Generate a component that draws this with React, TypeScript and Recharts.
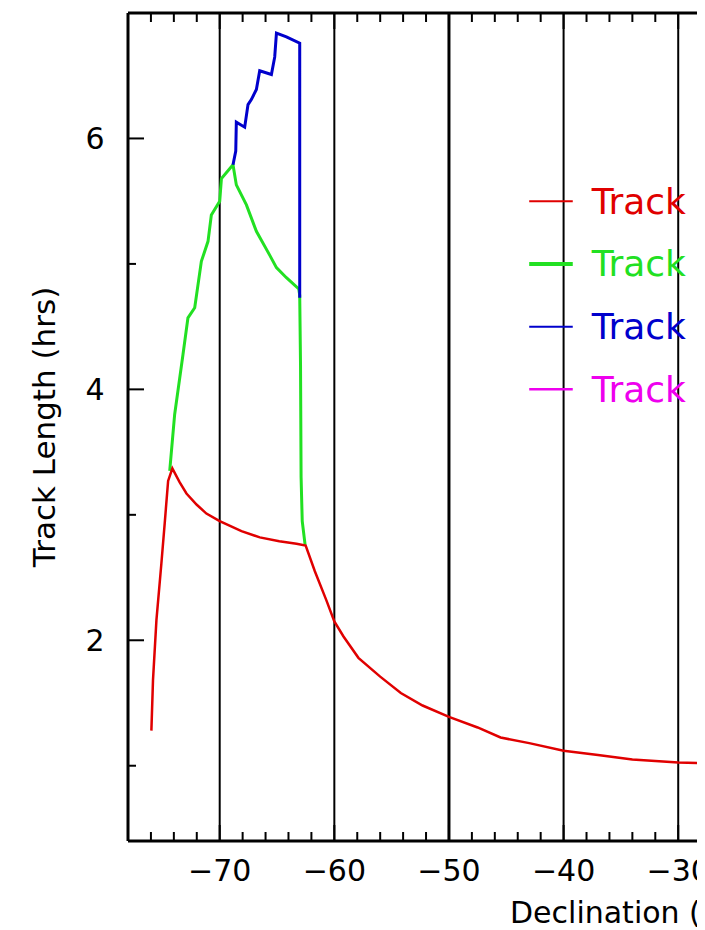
import React from 'react';
import { LineChart, Line, XAxis, YAxis, ReferenceLine } from 'recharts';

// Declination (deg) vs track length (hrs)
const redTrack = [
  { x: -75.96, y: 1.28 }, { x: -75.82, y: 1.68 }, { x: -75.52, y: 2.16 }, { x: -75.09, y: 2.61 },
  { x: -74.8, y: 2.93 }, { x: -74.5, y: 3.27 }, { x: -74.13, y: 3.37 }, { x: -73.5, y: 3.26 },
  { x: -72.9, y: 3.17 }, { x: -72.0, y: 3.08 }, { x: -71.16, y: 3.01 }, { x: -70.0, y: 2.95 },
  { x: -68.1, y: 2.87 }, { x: -66.5, y: 2.82 }, { x: -64.8, y: 2.79 }, { x: -63.3, y: 2.77 },
  { x: -62.5, y: 2.755 }, { x: -61.7, y: 2.55 }, { x: -60.7, y: 2.32 }, { x: -60.0, y: 2.15 },
  { x: -59.2, y: 2.03 }, { x: -57.9, y: 1.86 }, { x: -56.0, y: 1.71 }, { x: -54.2, y: 1.58 },
  { x: -52.3, y: 1.48 }, { x: -50.0, y: 1.39 }, { x: -47.5, y: 1.305 }, { x: -45.5, y: 1.225 },
  { x: -43.0, y: 1.18 }, { x: -40.0, y: 1.12 }, { x: -37.0, y: 1.086 }, { x: -34.0, y: 1.05 },
  { x: -30.0, y: 1.025 }, { x: -27.0, y: 1.02 },
];

const greenTrack = [
  { x: -74.36, y: 3.35 }, { x: -73.93, y: 3.8 }, { x: -73.2, y: 4.28 }, { x: -72.77, y: 4.57 },
  { x: -72.18, y: 4.65 }, { x: -71.6, y: 5.02 }, { x: -71.02, y: 5.18 }, { x: -70.73, y: 5.39 },
  { x: -70.0, y: 5.5 }, { x: -69.85, y: 5.68 }, { x: -68.84, y: 5.79 }, { x: -68.55, y: 5.63 },
  { x: -67.67, y: 5.47 }, { x: -66.8, y: 5.26 }, { x: -65.64, y: 5.07 }, { x: -65.05, y: 4.97 },
  { x: -64.18, y: 4.89 }, { x: -63.1, y: 4.8 }, { x: -63.02, y: 4.75 }, { x: -62.95, y: 4.2 },
  { x: -62.9, y: 3.3 }, { x: -62.8, y: 2.95 }, { x: -62.55, y: 2.76 },
];

const blueTrack = [
  { x: -68.84, y: 5.79 }, { x: -68.6, y: 5.9 }, { x: -68.55, y: 6.13 }, { x: -67.82, y: 6.09 },
  { x: -67.53, y: 6.27 }, { x: -67.24, y: 6.31 }, { x: -66.8, y: 6.39 }, { x: -66.51, y: 6.54 },
  { x: -65.49, y: 6.51 }, { x: -65.2, y: 6.65 }, { x: -65.05, y: 6.84 }, { x: -64.18, y: 6.81 },
  { x: -63.02, y: 6.76 }, { x: -63.02, y: 4.73 },
];

const xTicks = [-76, -74, -72, -70, -68, -66, -64, -62, -60, -58, -56, -54, -52, -50, -48, -46, -44, -42, -40, -38, -36, -34, -32, -30, -28, -26];
const yTicks = [1, 2, 3, 4, 5, 6];
const gridLines = [-70, -60, -50, -40, -30];
const legendNames = ['Track', 'Track', 'Track', 'Track'];
const legendColors = ['#e00000', '#22e022', '#0000cc', '#ee00ee'];

const FONT = '"DejaVu Sans", sans-serif';
const legendLevels = [5.5, 5.0, 4.5, 4.0];
const legendWidths = [2, 4, 2, 2.5];
const legendXStart = -43.0;
const legendXEnd = -39.2;

const fmt = (v: number) => (v < 0 ? `\u2212${Math.abs(v)}` : `${v}`);

const BottomTick = (props: any) => {
  const { x, y, payload } = props;
  const v = payload.value;
  const major = v % 10 === 0;
  return (
    <g>
      <line x1={x} x2={x} y1={y} y2={y - (major ? 16 : 9)} stroke="#000" strokeWidth={2} />
      {major && (
        <text x={x} y={y + 40} textAnchor="middle" fontFamily={FONT} fontSize={30} fill="#000">
          {fmt(v)}
        </text>
      )}
    </g>
  );
};

const TopTick = (props: any) => {
  const { x, y, payload } = props;
  const major = payload.value % 10 === 0;
  return <line x1={x} x2={x} y1={y} y2={y + (major ? 16 : 9)} stroke="#000" strokeWidth={2} />;
};

const LeftTick = (props: any) => {
  const { x, y, payload } = props;
  const v = payload.value;
  const major = v % 2 === 0;
  return (
    <g>
      <line x1={x} x2={x + (major ? 16 : 8)} y1={y} y2={y} stroke="#000" strokeWidth={2} />
      {major && (
        <text x={x - 33} y={y + 11} textAnchor="middle" fontFamily={FONT} fontSize={30} fill="#000">
          {fmt(v)}
        </text>
      )}
    </g>
  );
};

const YLabel = (props: any) => {
  const vb = props.viewBox || { x: 0, y: 0, width: 120, height: 828 };
  const cx = vb.x + 36;
  const cy = vb.y + vb.height / 2;
  return (
    <text
      x={cx}
      y={cy}
      transform={`rotate(-90, ${cx}, ${cy})`}
      textAnchor="middle"
      dominantBaseline="central"
      fontFamily={FONT}
      fontSize={31}
      fill="#000"
    >
      Track Length (hrs)
    </text>
  );
};

const XLabel = (props: any) => {
  const vb = props.viewBox || { x: 120, y: 833, width: 620, height: 89 };
  return (
    <text x={502} y={vb.y + 82} textAnchor="start" fontFamily={FONT} fontSize={30} fill="#000">
      Declination (deg)
    </text>
  );
};

const makeLegendLabel = (name: string, color: string) => (props: any) => {
  const vb = props.viewBox || { x: 0, y: 0, width: 0, height: 0 };
  return (
    <text
      x={vb.x + vb.width + 19}
      y={vb.y}
      dominantBaseline="central"
      fontFamily={FONT}
      fontSize={36}
      fill={color}
    >
      {name}
    </text>
  );
};

export default function App() {
  return (
    <div style={{ width: 697, height: 922, overflow: 'hidden', background: '#fff' }}>
      <LineChart width={760} height={922} margin={{ top: 4, right: 21, bottom: 0, left: 0 }}>
        <XAxis
          xAxisId="bottom"
          dataKey="x"
          type="number"
          domain={[-78, -24]}
          allowDataOverflow
          ticks={xTicks}
          interval={0}
          tick={<BottomTick />}
          tickLine={false}
          tickSize={0}
          tickMargin={0}
          height={89}
          axisLine={{ stroke: '#000', strokeWidth: 3 }}
          label={{ content: <XLabel /> }}
        />
        <XAxis
          xAxisId="top"
          orientation="top"
          dataKey="x"
          type="number"
          domain={[-78, -24]}
          allowDataOverflow
          ticks={xTicks}
          interval={0}
          tick={<TopTick />}
          tickLine={false}
          tickSize={0}
          tickMargin={0}
          height={1}
          axisLine={{ stroke: '#000', strokeWidth: 3 }}
        />
        <YAxis
          dataKey="y"
          type="number"
          domain={[0.4, 7]}
          allowDataOverflow
          ticks={yTicks}
          interval={0}
          tick={<LeftTick />}
          tickLine={false}
          tickSize={0}
          tickMargin={0}
          width={120}
          axisLine={{ stroke: '#000', strokeWidth: 3 }}
          label={{ content: <YLabel /> }}
        />
        {gridLines.map((g) => (
          <ReferenceLine key={g} xAxisId="bottom" x={g} stroke="#000" strokeWidth={g === -50 ? 3 : 2} />
        ))}
        <Line xAxisId="bottom" data={greenTrack} dataKey="y" type="linear" stroke={legendColors[1]} strokeWidth={3} dot={false} isAnimationActive={false} />
        <Line xAxisId="bottom" data={blueTrack} dataKey="y" type="linear" stroke={legendColors[2]} strokeWidth={3} dot={false} isAnimationActive={false} />
        <Line xAxisId="bottom" data={redTrack} dataKey="y" type="linear" stroke={legendColors[0]} strokeWidth={2.5} dot={false} isAnimationActive={false} />
        {legendNames.map((n, i) => (
          <ReferenceLine
            key={`leg${i}`}
            xAxisId="bottom"
            segment={[{ x: legendXStart, y: legendLevels[i] }, { x: legendXEnd, y: legendLevels[i] }]}
            stroke={legendColors[i]}
            strokeWidth={legendWidths[i]}
            label={{ content: makeLegendLabel(n, legendColors[i]) }}
          />
        ))}
      </LineChart>
    </div>
  );
}
